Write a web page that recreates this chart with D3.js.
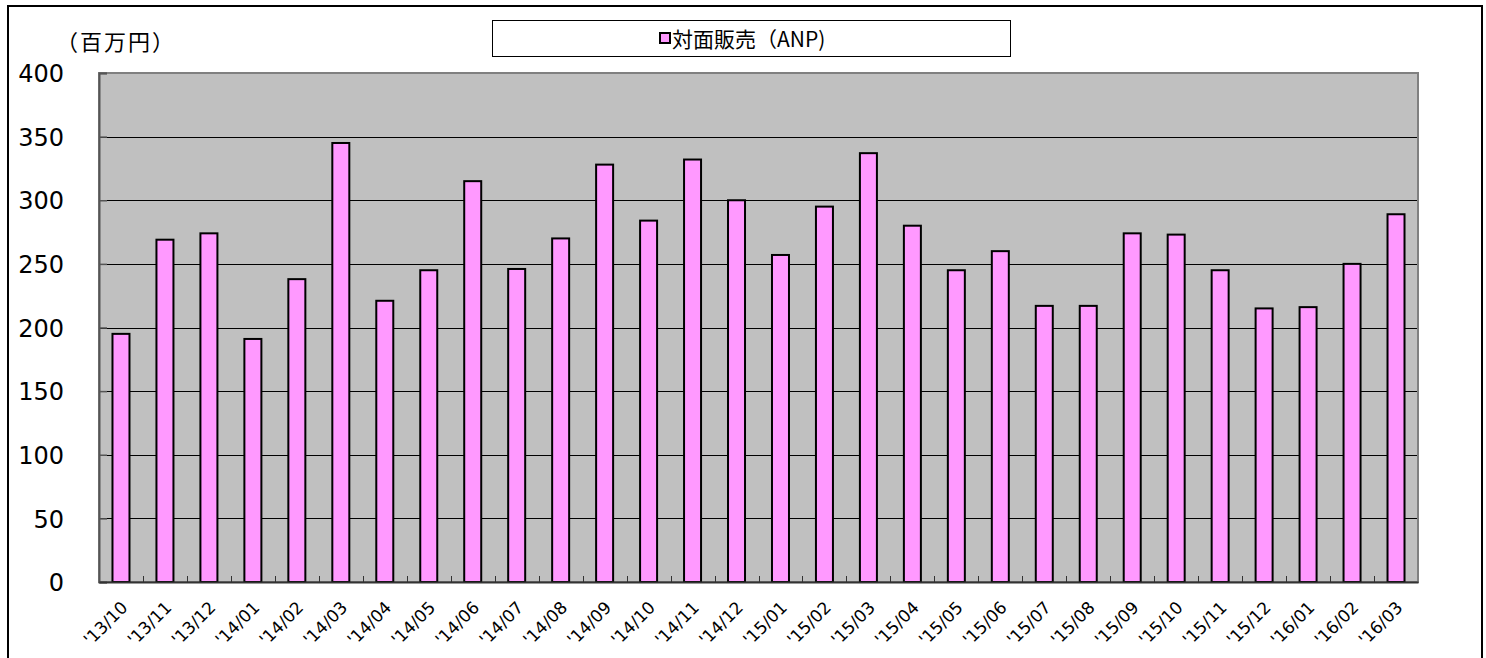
<!DOCTYPE html>
<html><head><meta charset="utf-8">
<script src="https://cdn.jsdelivr.net/npm/d3@7/dist/d3.min.js"></script>
<style>
body{margin:0;background:#fff;}
svg{display:block;}
</style></head>
<body>
<svg id="chart" width="1486" height="658"></svg>
<script>
const categories = ["'13/10","'13/11","'13/12","'14/01","'14/02","'14/03","'14/04","'14/05","'14/06","'14/07","'14/08","'14/09","'14/10","'14/11","'14/12","'15/01","'15/02","'15/03","'15/04","'15/05","'15/06","'15/07","'15/08","'15/09","'15/10","'15/11","'15/12","'16/01","'16/02","'16/03"];
const values = [195,269,274,191,238,345,221,245,315,246,270,328,284,332,300,257,295,337,280,245,260,217,217,274,273,245,215,216,250,289];
const yTicks = [0,50,100,150,200,250,300,350,400];
const seriesName = "対面販売（ANP)";
const unitLabel = "（百万円）";

const svg = d3.select("#chart");
const L = 99, R = 1418, T = 73, B = 582;
const x = d3.scaleBand().domain(categories).range([L, R]).paddingInner(0).paddingOuter(0);
const y = d3.scaleLinear().domain([0, 400]).range([B, T]);
const font = "'DejaVu Sans', sans-serif";
const jfont = "'Noto Sans CJK JP', sans-serif";

// outer border
svg.append("rect").attr("x", 8).attr("y", 6).attr("width", 1474).attr("height", 680)
  .attr("fill", "#fff").attr("stroke", "#000").attr("stroke-width", 2);

// plot area
svg.append("rect").attr("x", L).attr("y", T).attr("width", R - L).attr("height", B - T)
  .attr("fill", "#c0c0c0");

// gridlines
svg.append("g").selectAll("line").data(yTicks.filter(d => d > 0 && d < 400)).join("line")
  .attr("x1", L).attr("x2", R).attr("y1", d => Math.round(y(d)) + 0.5).attr("y2", d => Math.round(y(d)) + 0.5)
  .attr("stroke", "#000").attr("stroke-width", 1);

// plot border
svg.append("rect").attr("x", L).attr("y", T).attr("width", R - L).attr("height", B - T)
  .attr("fill", "none").attr("stroke", "#808080").attr("stroke-width", 2);

// y axis
const yAxis = d3.axisLeft(y).tickValues(yTicks).tickSize(-8).tickPadding(35).tickFormat(d3.format("d"));
const gy = svg.append("g").attr("transform", `translate(${L},0)`).call(yAxis);
gy.select(".domain").attr("stroke", "#555").attr("stroke-width", 2);
gy.selectAll(".tick line").attr("stroke", "#555").attr("stroke-width", 1.5);
gy.selectAll(".tick text").attr("font-family", font).attr("font-size", 24).attr("fill", "#000")
  .attr("dy", "0.36em");

// bars
const bw = 17;
svg.append("g").selectAll("rect").data(values).join("rect")
  .attr("x", (d, i) => x(categories[i]) + x.bandwidth() / 2 - bw / 2)
  .attr("y", d => y(d))
  .attr("width", bw)
  .attr("height", d => B - y(d))
  .attr("fill", "#ff99ff").attr("stroke", "#000").attr("stroke-width", 2);

// x axis
const xAxis = d3.axisBottom(x).tickSize(0).tickFormat(d => d);
const gx = svg.append("g").attr("transform", `translate(0,${B})`).call(xAxis);
gx.select(".domain").attr("stroke", "#333").attr("stroke-width", 2);
gx.selectAll(".tick text")
  .style("font-family", font).style("font-size", "17px").attr("fill", "#000")
  .attr("text-anchor", "end")
  .attr("transform", "translate(-1,18) rotate(-45)")
  .attr("x", 0).attr("y", 0).attr("dy", "0.72em");
// category boundary ticks (inside)
svg.append("g").selectAll("line").data(categories.slice(1)).join("line")
  .attr("x1", d => Math.round(x(d)) + 0.5).attr("x2", d => Math.round(x(d)) + 0.5)
  .attr("y1", B).attr("y2", B - 6)
  .attr("stroke", "#333").attr("stroke-width", 1);

// unit label
svg.append("text").attr("x", 56).attr("y", 50).attr("font-family", jfont).attr("font-size", 22)
  .attr("letter-spacing", 2).attr("fill", "#000").text(unitLabel);

// legend
const lg = svg.append("g");
lg.append("rect").attr("x", 492.5).attr("y", 20.5).attr("width", 518).attr("height", 36)
  .attr("fill", "#fff").attr("stroke", "#000").attr("stroke-width", 1);
lg.append("rect").attr("x", 660).attr("y", 33).attr("width", 10).attr("height", 10)
  .attr("fill", "#ff99ff").attr("stroke", "#000").attr("stroke-width", 2);
lg.append("text").attr("x", 672).attr("y", 47).attr("font-family", jfont).attr("font-size", 21)
  .attr("fill", "#000").text(seriesName);
</script>
</body></html>
